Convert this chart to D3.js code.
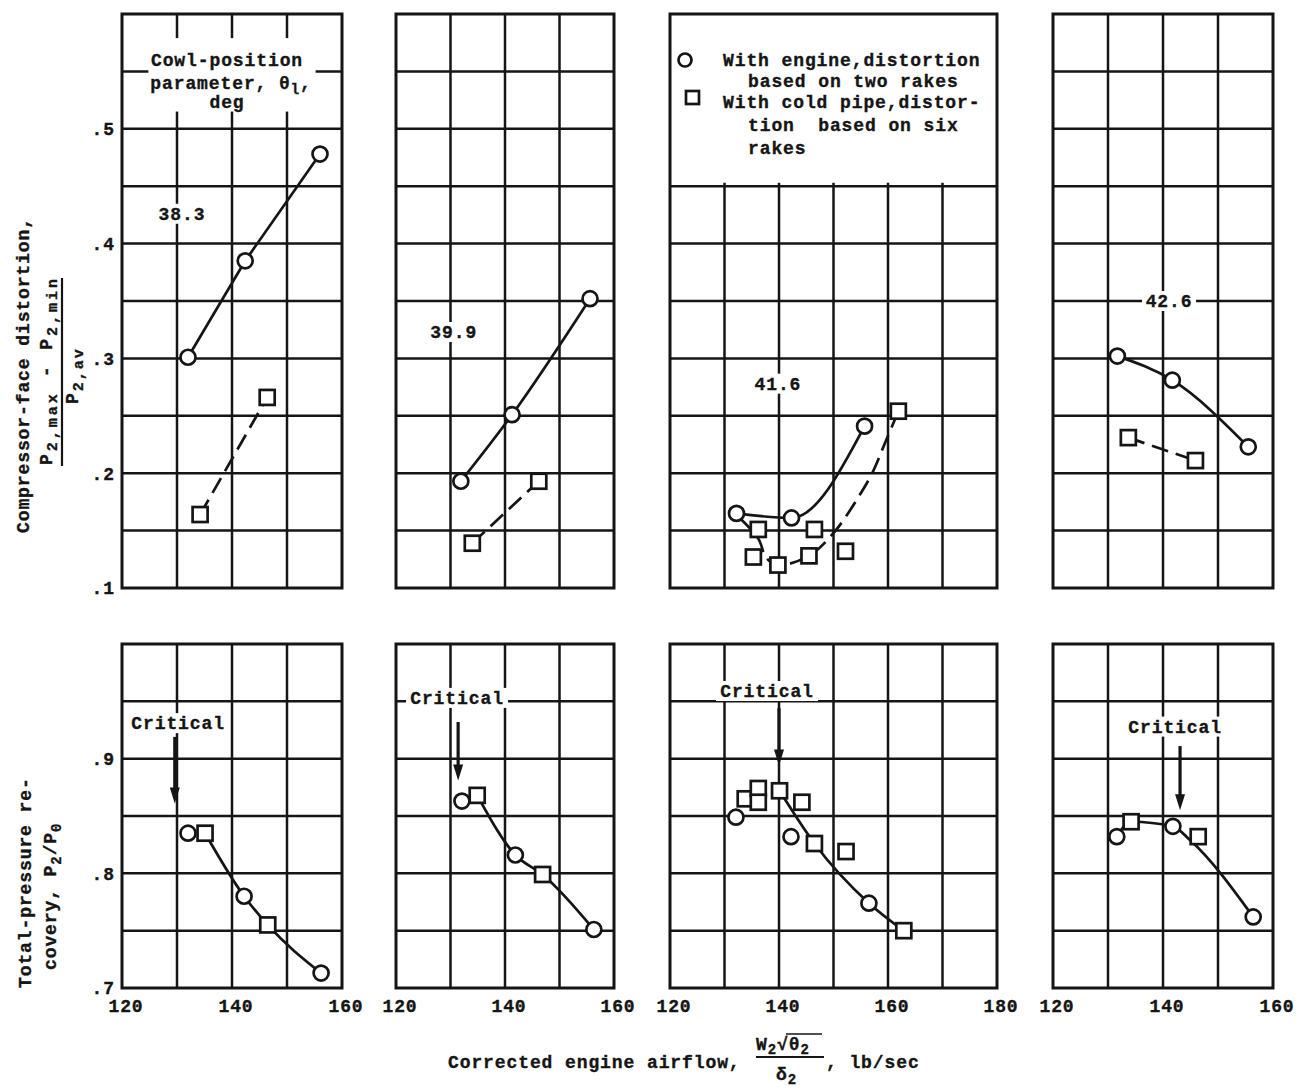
<!DOCTYPE html>
<html>
<head>
<meta charset="utf-8">
<script src="https://cdn.jsdelivr.net/npm/d3@7"></script>
<style>
  body { margin: 0; background: #fff; }
  text { font-family: "Liberation Mono", "DejaVu Sans Mono", monospace; font-weight: bold; fill: #151515; stroke: #151515; stroke-width: 0.35px; font-size: 18px; letter-spacing: 0.9px; }
</style>
</head>
<body>
<div id="chart"></div>
<script>
// ---- data ----
const cowlLabels = ["38.3", "39.9", "41.6", "42.6"];
const panelXMax = [160, 160, 180, 160];
const xTickLabels = [[120, 140, 160], [120, 140, 160], [120, 140, 160, 180], [120, 140, 160]];
const distTicks = [0.1, 0.2, 0.3, 0.4, 0.5];
const recTicks = [0.7, 0.8, 0.9];

// distortion, with engine (circles)
const distEngine = [
  [[132.0, 0.301], [142.4, 0.385], [156.0, 0.478]],
  [[131.9, 0.193], [141.3, 0.251], [155.6, 0.352]],
  [[132.2, 0.165], [142.3, 0.161], [155.7, 0.241]],
  [[131.7, 0.302], [141.7, 0.281], [155.5, 0.223]]
];
// distortion, with cold pipe (squares)
const distPipe = [
  [[134.2, 0.164], [146.4, 0.266]],
  [[134.0, 0.139], [146.2, 0.193]],
  [[136.2, 0.151], [135.3, 0.127], [139.8, 0.120], [145.5, 0.128], [146.5, 0.151], [152.2, 0.132], [161.9, 0.254]],
  [[133.7, 0.231], [145.9, 0.211]]
];
// faired dashed curves (cold pipe)
const distPipeFair = [
  [[134.2, 0.164], [146.4, 0.266]],
  [[134.0, 0.139], [146.2, 0.193]],
  [[132.8, 0.161], [136.2, 0.143], [137.7, 0.126], [139.8, 0.120], [145.5, 0.128], [150.2, 0.149], [154.8, 0.181], [157.2, 0.201], [159.6, 0.228], [161.9, 0.254]],
  [[133.7, 0.231], [145.9, 0.211]]
];

// total-pressure recovery, with engine (circles)
const recEngine = [
  [[132.0, 0.835], [142.2, 0.780], [156.2, 0.713]],
  [[132.1, 0.863], [141.9, 0.816], [156.3, 0.751]],
  [[132.1, 0.849], [142.2, 0.832], [156.5, 0.774]],
  [[131.6, 0.832], [141.8, 0.841], [156.4, 0.762]]
];
// total-pressure recovery, with cold pipe (squares)
const recPipe = [
  [[135.1, 0.835], [146.5, 0.755]],
  [[134.9, 0.868], [146.9, 0.799]],
  [[133.8, 0.865], [136.2, 0.874], [136.2, 0.862], [140.1, 0.872], [144.2, 0.862], [146.5, 0.826], [152.3, 0.819], [162.9, 0.750]],
  [[134.2, 0.845], [146.4, 0.832]]
];
// faired solid curves (recovery)
const recFair = [
  [[135.1, 0.835], [142.2, 0.780], [146.5, 0.755], [156.2, 0.713]],
  [[134.9, 0.868], [141.9, 0.816], [146.9, 0.799], [156.3, 0.751]],
  [[140.1, 0.872], [146.5, 0.826], [156.5, 0.774], [162.9, 0.750]],
  [[131.6, 0.832], [134.2, 0.845], [141.8, 0.841], [144.9, 0.829], [156.4, 0.762]]
];

// "Critical" arrows: airflow, arrow tip
const criticalX = [129.6, 131.4, 140.0, 143.1];
const criticalTip = [0.861, 0.881, 0.894, 0.855];

// ---- layout ----
const W = 1297, H = 1088;
const panelX = [[122, 342], [396, 614], [670, 997], [1053, 1273]];
const topY = [14, 588], botY = [644, 988];
// annotation anchors in data units
const cowlPos = [[130.9, 0.426], [130.6, 0.323], [139.8, 0.278], [141.1, 0.350]];
const critLabelPos = [[130.2, 0.931], [131.2, 0.953], [137.8, 0.959], [142.2, 0.928]];
const critTop = [0.919, 0.932, 0.944, 0.911];

const svg = d3.select("#chart").append("svg")
  .attr("width", W).attr("height", H);

const ink = "#151515";

function whiteBox(g, x, y, w, h) {
  g.append("rect").attr("x", x).attr("y", y).attr("width", w).attr("height", h).attr("fill", "#fff");
}

function drawMarkers(g, x, y, circles, squares) {
  g.selectAll("circle.pt").data(circles).join("circle")
    .attr("class", "pt")
    .attr("cx", d => x(d[0])).attr("cy", d => y(d[1])).attr("r", 7.5)
    .attr("fill", "#fff").attr("stroke", ink).attr("stroke-width", 2.7);
  g.selectAll("rect.pt").data(squares).join("rect")
    .attr("class", "pt")
    .attr("x", d => x(d[0]) - 7.5).attr("y", d => y(d[1]) - 7.5)
    .attr("width", 15).attr("height", 15)
    .attr("fill", "#fff").attr("stroke", ink).attr("stroke-width", 2.7);
}

function drawPanel(i, row) {
  const xmax = panelXMax[i];
  const x = d3.scaleLinear().domain([120, xmax]).range(panelX[i]);
  const y = row === 0
    ? d3.scaleLinear().domain([0.1, 0.6]).range([topY[1], topY[0]])
    : d3.scaleLinear().domain([0.7, 1.0]).range([botY[1], botY[0]]);
  const g = svg.append("g");
  const [xa, xb] = x.range();
  const [yb, ya] = y.range();

  // grid
  g.selectAll("line.v").data(d3.range(130, xmax, 10)).join("line")
    .attr("x1", d => x(d)).attr("x2", d => x(d)).attr("y1", ya).attr("y2", yb)
    .attr("stroke", ink).attr("stroke-width", 2.5);
  const hv = row === 0 ? d3.ticks(0.1, 0.6, 10) : d3.ticks(0.7, 1.0, 6);
  g.selectAll("line.h").data(hv.slice(1, -1)).join("line")
    .attr("x1", xa).attr("x2", xb).attr("y1", d => y(d)).attr("y2", d => y(d))
    .attr("stroke", ink).attr("stroke-width", 2.5);

  // white boxes behind labels
  if (row === 0) {
    if (i === 0) whiteBox(g, x(124.8), y(0.579), x(155.2) - x(124.8), y(0.515) - y(0.579));
    if (i === 2) whiteBox(g, xa, ya, xb - xa, y(0.453) - ya);
    const [cx, cy] = cowlPos[i];
    whiteBox(g, x(cx) - 27, y(cy) - 10, 54, 20);
  } else {
    const [lx, ly] = critLabelPos[i];
    whiteBox(g, x(lx) - 51, y(ly) - 10, 102, 20);
  }

  // frame
  g.append("rect").attr("x", xa).attr("y", ya).attr("width", xb - xa).attr("height", yb - ya)
    .attr("fill", "none").attr("stroke", ink).attr("stroke-width", 3);

  const line = d3.line().x(d => x(d[0])).y(d => y(d[1]));
  if (row === 0) {
    g.append("path").datum(distEngine[i])
      .attr("d", line.curve(i === 0 ? d3.curveLinear : d3.curveMonotoneX))
      .attr("fill", "none").attr("stroke", ink).attr("stroke-width", 2.7);
    g.append("path").datum(distPipeFair[i])
      .attr("d", line.curve(d3.curveCatmullRom))
      .attr("fill", "none").attr("stroke", ink).attr("stroke-width", 2.7)
      .attr("stroke-dasharray", "17,8");
    drawMarkers(g, x, y, distEngine[i], distPipe[i]);
    const [cx, cy] = cowlPos[i];
    g.append("text").attr("x", x(cx)).attr("y", y(cy)).attr("dy", "0.35em")
      .attr("text-anchor", "middle").text(cowlLabels[i]);
  } else {
    g.append("path").datum(recFair[i])
      .attr("d", line.curve(d3.curveMonotoneX))
      .attr("fill", "none").attr("stroke", ink).attr("stroke-width", 2.7);
    drawMarkers(g, x, y, recEngine[i], recPipe[i]);
    const [lx, ly] = critLabelPos[i];
    g.append("text").attr("x", x(lx)).attr("y", y(ly)).attr("dy", "0.35em")
      .attr("text-anchor", "middle").text("Critical");
    const ax = x(criticalX[i]), tip = y(criticalTip[i]);
    g.append("line").attr("x1", ax).attr("x2", ax).attr("y1", y(critTop[i])).attr("y2", tip - 12)
      .attr("stroke", ink).attr("stroke-width", 3.2);
    g.append("path").attr("d", `M${ax - 5},${tip - 16}L${ax + 5},${tip - 16}L${ax},${tip}Z`).attr("fill", ink);
    // x tick labels
    g.selectAll("text.xt").data(xTickLabels[i]).join("text")
      .attr("class", "xt")
      .attr("x", d => x(d) + 4).attr("y", 1006).attr("dy", "0.35em")
      .attr("text-anchor", "middle").text(d => d);
  }

  // y tick labels on first column
  if (i === 0) {
    const ticks = row === 0 ? distTicks : recTicks;
    g.selectAll("text.yt").data(ticks).join("text")
      .attr("class", "yt")
      .attr("x", 115).attr("y", d => y(d)).attr("dy", "0.35em")
      .attr("text-anchor", "end").text(d => d3.format(".1f")(d).replace(/^0/, ""));
  }
}

for (let r = 0; r < 2; r++) for (let i = 0; i < 4; i++) drawPanel(i, r);

// cowl-position legend (panel 1)
const cowl = svg.append("g").attr("text-anchor", "middle");
cowl.append("text").attr("x", 227).attr("y", 66).text("Cowl-position");
const pl = cowl.append("text").attr("x", 231).attr("y", 89);
pl.append("tspan").text("parameter, \u03b8");
pl.append("tspan").attr("dy", 5).attr("font-size", 14).text("l");
pl.append("tspan").attr("dy", -5).text(",");
cowl.append("text").attr("x", 227).attr("y", 108).text("deg");

// symbol legend (panel 3)
const leg = svg.append("g");
leg.append("circle").attr("cx", 685).attr("cy", 60).attr("r", 6.5)
  .attr("fill", "#fff").attr("stroke", ink).attr("stroke-width", 2.7);
leg.append("rect").attr("x", 686).attr("y", 91).attr("width", 13).attr("height", 13)
  .attr("fill", "#fff").attr("stroke", ink).attr("stroke-width", 2.7);
const legLines = [
  [723, 66, "With engine,distortion"],
  [748, 87, "based on two rakes"],
  [723, 108, "With cold pipe,distor-"],
  [748, 131, "tion  based on six"],
  [748, 154, "rakes"]
];
leg.selectAll("text").data(legLines).join("text")
  .attr("x", d => d[0]).attr("y", d => d[1])
  .style("white-space", "pre").text(d => d[2]);

// y axis titles (rotated)
function rot(xb, ys) {
  return svg.append("g").attr("transform", `translate(${xb},${ys}) rotate(-90)`);
}
rot(29, 533).append("text").text("Compressor-face distortion,");
const num = rot(52, 465).append("text").style("letter-spacing", "3px");
num.append("tspan").text("P");
num.append("tspan").attr("dy", 5).attr("font-size", 15).text("2,max");
num.append("tspan").attr("dy", -5).text(" - P");
num.append("tspan").attr("dy", 5).attr("font-size", 15).text("2,min");
svg.append("line").attr("x1", 62).attr("x2", 62).attr("y1", 278).attr("y2", 466)
  .attr("stroke", ink).attr("stroke-width", 2.2);
const den = rot(78, 404).append("text").style("letter-spacing", "2px");
den.append("tspan").text("P");
den.append("tspan").attr("dy", 5).attr("font-size", 15).text("2,av");

rot(31, 988).append("text").text("Total-pressure re-");
const cov = rot(56, 970).append("text");
cov.append("tspan").text("covery, P");
cov.append("tspan").attr("dy", 5).attr("font-size", 14).text("2");
cov.append("tspan").attr("dy", -5).text("/P");
cov.append("tspan").attr("dy", 5).attr("font-size", 14).text("0");

// x axis title
const xt = svg.append("g");
xt.append("text").attr("x", 448).attr("y", 1068).text("Corrected engine airflow,");
const fx = 756;
const nt = xt.append("text").attr("x", fx).attr("y", 1050);
nt.append("tspan").text("W");
nt.append("tspan").attr("dy", 4).attr("font-size", 14).text("2");
nt.append("tspan").attr("dy", -4).text("\u221a\u03b8");
nt.append("tspan").attr("dy", 4).attr("font-size", 14).text("2");
xt.append("line").attr("x1", fx + 30).attr("x2", fx + 66).attr("y1", 1034).attr("y2", 1034)
  .attr("stroke", ink).attr("stroke-width", 1.6);
xt.append("line").attr("x1", fx).attr("x2", fx + 68).attr("y1", 1057).attr("y2", 1057)
  .attr("stroke", ink).attr("stroke-width", 2);
const dt = xt.append("text").attr("x", fx + 20).attr("y", 1080);
dt.append("tspan").text("\u03b4");
dt.append("tspan").attr("dy", 4).attr("font-size", 14).text("2");
xt.append("text").attr("x", fx + 70).attr("y", 1068).text(", lb/sec");
</script>
</body>
</html>
